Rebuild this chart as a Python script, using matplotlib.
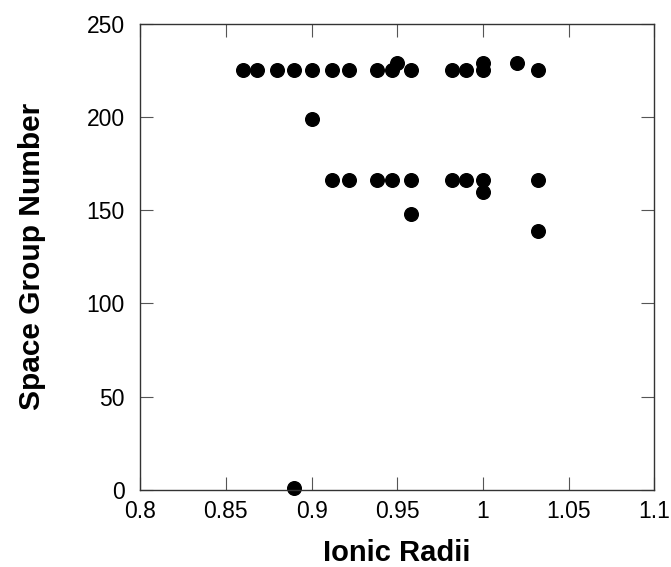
import numpy as np
import matplotlib
matplotlib.use("Agg")
from matplotlib import pyplot as plt

# ionic radius vs space group number
radii = [0.860, 0.868, 0.880, 0.890, 0.900, 0.912, 0.922, 0.938, 0.947, 0.958,
         0.982, 0.990, 1.000, 1.032,
         0.950, 1.000, 1.020,
         0.900,
         0.912, 0.922, 0.938, 0.947, 0.958, 0.982, 0.990, 1.000, 1.032,
         1.000, 0.958, 1.032,
         0.890]
sg_number = [225, 225, 225, 225, 225, 225, 225, 225, 225, 225,
             225, 225, 225, 225,
             229, 229, 229,
             199,
             166, 166, 166, 166, 166, 166, 166, 166, 166,
             160, 148, 139,
             1]

plt.rcParams['font.family'] = ['Liberation Sans', 'DejaVu Sans']

fig = plt.figure(figsize=(6.71, 5.67), dpi=100)
ax = fig.add_axes([0.209, 0.136, 0.766, 0.822])

ax.plot(radii, sg_number, 'o', color='black', markersize=9.8, clip_on=False)

ax.set_xlim(0.8, 1.1)
ax.set_ylim(0, 250)
ax.set_xticks([0.8, 0.85, 0.9, 0.95, 1.0, 1.05, 1.1])
ax.set_xticklabels(['0.8', '0.85', '0.9', '0.95', '1', '1.05', '1.1'])
ax.set_yticks([0, 50, 100, 150, 200, 250])

ax.tick_params(direction='in', length=9.5, width=0.8, top=True, right=True,
               labelsize=16.5, color='#555555')
ax.tick_params(axis='x', pad=7.5)
ax.tick_params(axis='y', pad=11)
for s in ax.spines.values():
    s.set_linewidth(1.0)
    s.set_color('#333333')

ax.set_xlabel('Ionic Radii', fontsize=21, fontweight='bold', labelpad=11)
ax.set_ylabel('Space Group Number', fontsize=21.5, fontweight='bold', labelpad=29)

fig.savefig('out.png', dpi=100)
